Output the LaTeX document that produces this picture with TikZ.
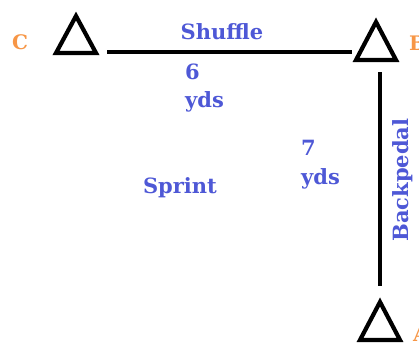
\documentclass[tikz,border=0pt]{standalone}
\usepackage{fontspec}
\setmainfont{DejaVu Serif}
\definecolor{labelblue}{RGB}{78,88,214}
\definecolor{coneorange}{RGB}{247,150,70}
\begin{document}
\begin{tikzpicture}[x=1pt,y=-1pt,
  cone/.style={draw=black,line width=4.2pt,line join=miter},
  track/.style={draw=black,line width=4pt},
  drill/.style={text=labelblue,font=\bfseries\fontsize{21}{30}\selectfont,inner sep=0pt},
  conelabel/.style={text=coneorange,font=\bfseries\fontsize{20}{22}\selectfont,inner sep=0pt}]
  \useasboundingbox (0,0) rectangle (419,345);
  % cones
  \draw[cone] (76,16) -- (96,53) -- (56,53) -- cycle;
  \draw[cone] (376,22) -- (396,60) -- (356,60) -- cycle;
  \draw[cone] (380,302) -- (400,340) -- (360,340) -- cycle;
  % cone labels
  \node[conelabel] (c) at (20,42) {C};
  \node[conelabel,anchor=west] (b) at (409,43) {B};
  \node[conelabel,anchor=west] (a) at (413,334) {A};
  % connector ends
  \coordinate (cR) at (107,52);
  \coordinate (bL) at (352,52);
  \coordinate (bD) at (380,72);
  \coordinate (aU) at (380,286);
  \draw[track] (cR) -- (bL);
  \draw[track] (bD) -- (aU);
  % drill labels
  \node[drill] (shuffle) at (222,32) {Shuffle};
  \node[drill,anchor=west] (six) at (185,72) {6};
  \node[drill,anchor=west] (sixyds) at (185,102) {yds};
  \node[drill,anchor=west] (seven) at (301,148) {7};
  \node[drill,anchor=west] (sevenyds) at (301,179) {yds};
  \node[drill] (sprint) at (180,188) {Sprint};
  \node[drill,rotate=90] (back) at (403,180) {Backpedal};
\end{tikzpicture}
\end{document}
